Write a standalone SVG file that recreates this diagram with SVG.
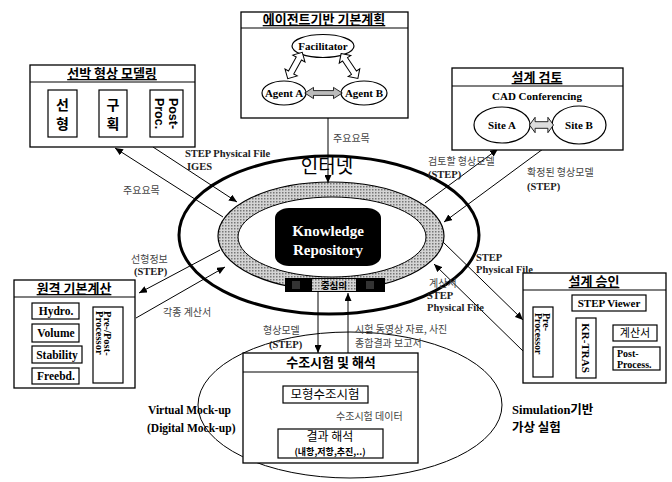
<svg xmlns="http://www.w3.org/2000/svg" width="672" height="482" viewBox="0 0 672 482">
<defs>
<style>
.box{fill:#fff;stroke:#000;stroke-width:1.3}
.ib{fill:#fff;stroke:#000;stroke-width:1.2}
.ttl{font-family:"Noto Sans CJK KR","Liberation Sans",sans-serif;font-weight:700;font-size:13px;text-anchor:middle;text-decoration:underline}
.kr{font-family:"Noto Sans CJK KR","Liberation Sans",sans-serif}
.ser{font-family:"Liberation Serif","Noto Sans CJK KR",serif;font-weight:700}
.lbl{font-family:"Liberation Serif","Noto Sans CJK KR",serif;font-weight:700;font-size:10.5px;fill:#222}
.klbl{font-family:"Noto Sans CJK KR","Liberation Sans",sans-serif;font-size:10px;fill:#444}
.ln{stroke:#000;stroke-width:1;fill:none}
.hol{fill:#fff;stroke:#000;stroke-width:1}
</style>
<marker id="ah" markerWidth="8" markerHeight="7" refX="8" refY="3.5" orient="auto" markerUnits="userSpaceOnUse">
<path d="M0,0 L8,3.5 L0,7 z" fill="#000"/>
</marker>
<pattern id="dots" width="3" height="3" patternUnits="userSpaceOnUse">
<rect width="3" height="3" fill="#d4d4d4"/>
<rect width="1.5" height="1.5" fill="#777"/>
</pattern>
<path id="dbl" d="M-15,0 L-8,-7 L-8,-3 L8,-3 L8,-7 L15,0 L8,7 L8,3 L-8,3 L-8,7 z"/>
</defs>

<!-- background shapes -->
<g id="mockup-ellipse">
<ellipse cx="350" cy="405" rx="152" ry="73" fill="none" stroke="#000" stroke-width="1"/>
</g>
<g id="internet">
<ellipse cx="329" cy="235" rx="150" ry="79" fill="none" stroke="#000" stroke-width="3"/>
<text x="327" y="173" class="kr" font-size="19" text-anchor="middle">인터넷</text>
</g>
<g id="ring">
<ellipse cx="331" cy="236" rx="113" ry="54" fill="url(#dots)" stroke="#000" stroke-width="1.2"/>
<ellipse cx="332" cy="237" rx="94" ry="40" fill="#fff" stroke="#000" stroke-width="1"/>
</g>
<g id="knowledge-repository">
<rect x="275" y="208" width="106" height="58" rx="14" ry="10" fill="#000"/>
<text x="328" y="236" class="ser" font-size="15" fill="#fff" text-anchor="middle">Knowledge</text>
<text x="328" y="255" class="ser" font-size="15" fill="#fff" text-anchor="middle">Repository</text>
</g>
<g id="band">
<rect x="285" y="278" width="100" height="14" fill="#000"/>
<rect x="312" y="279" width="44" height="12" fill="url(#dots)"/>
<rect x="292" y="281" width="8" height="8" fill="#333"/>
<rect x="366" y="281" width="8" height="8" fill="#333"/>
<text x="334" y="289" class="kr" font-size="9.5" font-weight="700" text-anchor="middle">중심의</text>
</g>

<!-- connectors -->
<g id="connectors">
<path class="ln" d="M223,217 L115,148" marker-end="url(#ah)"/>
<path class="ln" d="M153,147 L237,202" marker-end="url(#ah)"/>
<path class="ln" d="M328,118 L328,183" marker-end="url(#ah)"/>
<path class="ln" d="M425,203 L498,149" marker-end="url(#ah)"/>
<path class="ln" d="M543,149 L444,222" marker-end="url(#ah)"/>
<path class="ln" d="M443,242 L523,320" marker-end="url(#ah)"/>
<path class="ln" d="M523,351 L434,264" marker-end="url(#ah)"/>
<path class="ln" d="M220,250 L139,293" marker-end="url(#ah)"/>
<path class="ln" d="M136,318 L225,267" marker-end="url(#ah)"/>
<path class="ln" d="M318,292 L318,353" marker-end="url(#ah)"/>
<path class="ln" d="M348,353 L348,293" marker-end="url(#ah)"/>
<path class="ln" d="M523,301 L571,301" marker-end="url(#ah)"/>
<path class="ln" d="M331,403 L331,429" stroke-dasharray="2,2" marker-end="url(#ah)"/>
</g>

<!-- top: agent based planning -->
<g id="agent-planning">
<rect class="box" x="241" y="12" width="167" height="106"/>
<line x1="241" y1="28" x2="408" y2="28" stroke="#000" stroke-width="1.2"/>
<text x="324" y="24" class="ttl">에이전트기반 기본계획</text>
<ellipse class="ib" cx="323" cy="46" rx="31" ry="11.5"/>
<text x="323" y="50" class="ser" font-size="11" text-anchor="middle">Facilitator</text>
<ellipse class="ib" cx="284" cy="93" rx="22" ry="12"/>
<text x="284" y="97" class="ser" font-size="11" text-anchor="middle">Agent A</text>
<ellipse class="ib" cx="364" cy="93" rx="23" ry="12"/>
<text x="364" y="97" class="ser" font-size="11" text-anchor="middle">Agent B</text>
<use href="#dbl" transform="translate(323.5,93) scale(1.25,0.8)" fill="#bbb" stroke="#000" stroke-width="0.8"/>
<use href="#dbl" transform="translate(295,65.5) rotate(119)" class="hol"/>
<use href="#dbl" transform="translate(349.5,66) rotate(56)" class="hol"/>
</g>

<!-- ship hull modeling -->
<g id="hull-modeling">
<rect class="box" x="30" y="65" width="165" height="82"/>
<line x1="30" y1="82" x2="195" y2="82" stroke="#000" stroke-width="1.2"/>
<text x="112" y="78" class="ttl">선박 형상 모델링</text>
<rect class="ib" x="48" y="90" width="29" height="47"/>
<text x="62.5" y="110" class="kr" font-size="14" font-weight="700" text-anchor="middle">선</text>
<text x="62.5" y="129" class="kr" font-size="14" font-weight="700" text-anchor="middle">형</text>
<rect class="ib" x="99" y="90" width="28" height="47"/>
<text x="113" y="110" class="kr" font-size="14" font-weight="700" text-anchor="middle">구</text>
<text x="113" y="129" class="kr" font-size="14" font-weight="700" text-anchor="middle">획</text>
<rect class="ib" x="150" y="90" width="33" height="47"/>
<text transform="translate(169,113.5) rotate(90)" font-family="Liberation Sans,sans-serif" font-weight="700" font-size="12.5" text-anchor="middle">Post-</text>
<text transform="translate(155,113.5) rotate(90)" font-family="Liberation Sans,sans-serif" font-weight="700" font-size="12.5" text-anchor="middle">Proc.</text>
</g>

<!-- design review -->
<g id="design-review">
<rect class="box" x="452" y="68" width="171" height="82"/>
<line x1="452" y1="86" x2="623" y2="86" stroke="#000" stroke-width="1.2"/>
<text x="537" y="82" class="ttl">설계 검토</text>
<text x="537" y="100" class="ser" font-size="11" text-anchor="middle">CAD Conferencing</text>
<ellipse class="ib" cx="502" cy="125" rx="28" ry="18"/>
<text x="502" y="129" class="ser" font-size="11" text-anchor="middle">Site A</text>
<ellipse class="ib" cx="579" cy="125" rx="27" ry="19"/>
<text x="579" y="129" class="ser" font-size="11" text-anchor="middle">Site B</text>
<use href="#dbl" transform="translate(541.5,125) scale(0.8,1.1)" fill="#ddd" stroke="#000" stroke-width="0.9"/>
</g>

<!-- remote basic calculation -->
<g id="remote-calc">
<rect class="box" x="14" y="280" width="121" height="108"/>
<line x1="14" y1="297" x2="135" y2="297" stroke="#000" stroke-width="1.2"/>
<text x="74" y="293" class="ttl">원격 기본계산</text>
<rect class="ib" x="32" y="303" width="47" height="16"/>
<text x="56" y="315" class="ser" font-size="11.5" text-anchor="middle">Hydro.</text>
<rect class="ib" x="32" y="324" width="47" height="18"/>
<text x="56" y="337" class="ser" font-size="11.5" text-anchor="middle">Volume</text>
<rect class="ib" x="32" y="346" width="50" height="17"/>
<text x="57" y="359" class="ser" font-size="11.5" text-anchor="middle">Stability</text>
<rect class="ib" x="32" y="368" width="47" height="16"/>
<text x="56" y="380" class="ser" font-size="11.5" text-anchor="middle">Freebd.</text>
<rect class="ib" x="93" y="307" width="30" height="76"/>
<text transform="translate(104,311) rotate(90)" class="ser" font-size="10.5">Pre-/Post-</text>
<text transform="translate(96,311) rotate(90)" class="ser" font-size="10.5">Processor</text>
</g>

<!-- design approval -->
<g id="design-approval">
<rect class="box" x="523" y="273" width="143" height="110"/>
<line x1="523" y1="290" x2="666" y2="290" stroke="#000" stroke-width="1.2"/>
<text x="594" y="286" class="ttl">설계 승인</text>
<rect class="ib" x="572" y="295" width="74" height="16"/>
<text x="609" y="307" class="ser" font-size="11" text-anchor="middle">STEP Viewer</text>
<rect class="ib" x="533" y="307" width="20" height="70"/>
<text transform="translate(543,313) rotate(90)" class="ser" font-size="10">Pre-</text>
<text transform="translate(535,313) rotate(90)" class="ser" font-size="10">Processor</text>
<rect class="ib" x="576" y="318" width="20" height="60"/>
<text transform="translate(582,348) rotate(90)" class="ser" font-size="11" text-anchor="middle">KR-TRAS</text>
<rect class="ib" x="613" y="325" width="44" height="16"/>
<text x="635" y="337" class="kr" font-size="11" text-anchor="middle">계산서</text>
<rect class="ib" x="613" y="347" width="47" height="23"/>
<text x="617" y="357" class="ser" font-size="10">Post-</text>
<text x="617" y="368" class="ser" font-size="10">Process.</text>
</g>

<!-- tank test and analysis -->
<g id="tank-test">
<rect class="box" x="243" y="353" width="175" height="110"/>
<line x1="243" y1="372" x2="418" y2="372" stroke="#000" stroke-width="1.2"/>
<text x="331" y="367" class="kr" font-size="13" font-weight="700" text-anchor="middle">수조시험 및 해석</text>
<rect class="ib" x="283" y="386" width="85" height="17"/>
<text x="325" y="399" class="kr" font-size="12.5" text-anchor="middle">모형수조시험</text>
<rect class="ib" x="278" y="429" width="105" height="29"/>
<text x="330" y="441" class="kr" font-size="12" text-anchor="middle">결과 해석</text>
<text x="330" y="455" class="kr" font-size="9" font-weight="700" text-anchor="middle">(내항,저항,추진,..)</text>
</g>

<!-- connector labels -->
<g id="labels">
<text x="185" y="157" class="lbl">STEP Physical File</text>
<text x="187" y="170" class="lbl">IGES</text>
<text x="123" y="194" class="klbl">주요요목</text>
<text x="333" y="142" class="klbl">주요요목</text>
<text x="428" y="165" class="klbl">검토할 형상모델</text>
<text x="428" y="178" class="lbl">(STEP)</text>
<text x="527" y="176" class="klbl">확정된 형상모델</text>
<text x="527" y="190" class="lbl">(STEP)</text>
<text x="476" y="261" class="lbl">STEP</text>
<text x="476" y="273" class="lbl">Physical File</text>
<text x="429" y="287" class="klbl">계산서</text>
<text x="427" y="299" class="lbl">STEP</text>
<text x="427" y="311" class="lbl">Physical File</text>
<text x="131" y="263" class="klbl">선형정보</text>
<text x="134" y="275" class="lbl">(STEP)</text>
<text x="163" y="316" class="klbl">각종 계산서</text>
<text x="263" y="334" class="klbl">형상모델</text>
<text x="269" y="348" class="lbl">(STEP)</text>
<text x="355" y="333" class="klbl" font-size="9.5">시험 동영상 자료, 사진</text>
<text x="355" y="347" class="klbl" font-size="9.5">종합결과 보고서</text>
<text x="336" y="420" class="klbl" font-size="9.5">수조시험 데이터</text>
<text x="148" y="414" class="ser" font-size="11.5">Virtual Mock-up</text>
<text x="147" y="432" class="ser" font-size="11.5">(Digital Mock-up)</text>
<text x="512" y="414" class="ser" font-size="12.5">Simulation<tspan class="kr" font-weight="700">기반</tspan></text>
<text x="512" y="432" class="kr" font-size="12.5" font-weight="700">가상 실험</text>
</g>
</svg>
